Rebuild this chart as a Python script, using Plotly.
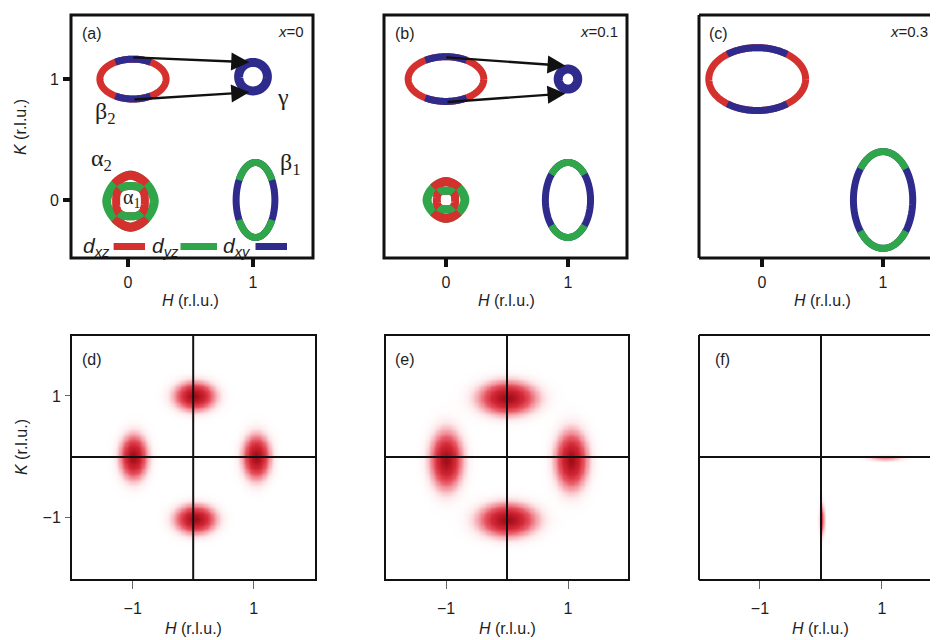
import numpy as np
import plotly.graph_objects as go

# ------------------------------------------------------------------ data
RED, GREEN, BLUE = "#d4302e", "#2fa64a", "#2f2b8c"

panel_labels = ["(a)", "(b)", "(c)", "(d)", "(e)", "(f)"]
doping_labels = ["<i>x</i>=0", "<i>x</i>=0.1", "<i>x</i>=0.3"]

top_ticks = [0, 1]
top_ticktext = ["0", "1"]
bottom_ticks = [-1, 1]
bottom_ticktext = ["\u22121", "1"]

# beta2 electron pocket near (0,1) for x = 0, 0.1, 0.3  (dxz ends, dxy sides)
beta2_H = [0.04, 0.0, -0.04]
beta2_K = [1.0, 1.0, 1.0]
beta2_a = [0.265, 0.31, 0.40]
beta2_b = [0.165, 0.185, 0.26]
beta2_phi = [58, 57, 52]

# beta1 electron pocket near (1,0)  (dxy sides, dyz top/bottom)
beta1_H = [1.02, 1.0, 1.0]
beta1_K = [0.0, 0.0, 0.0]
beta1_a = [0.155, 0.185, 0.245]
beta1_b = [0.31, 0.31, 0.40]
beta1_phi = [32, 43, 40]

# gamma hole pocket near (1,1), only x = 0, 0.1
gamma_H = [1.0, 1.0]
gamma_K = [1.02, 1.0]
gamma_a = [0.115, 0.08]
gamma_b = [0.118, 0.083]

# alpha hole pockets at (0,0), only x = 0, 0.1
alpha_H = [0.02, 0.0]
alpha_K = [-0.01, 0.0]
alpha2_a = [0.19, 0.155]   # outer alpha2: dxz top/bottom, dyz sides
alpha2_b = [0.215, 0.152]
alpha1_a = [0.115, 0.075]  # inner alpha1: dyz top/bottom, dxz sides
alpha1_b = [0.125, 0.077]
alpha2_n = 1.7             # rounded-diamond outer contour
alpha1_n = 2.8             # squarish inner contour
alpha_phi = 45

# nesting arrows (tail -> head), panels a and b
arrow_tail_H = [[0.03, 0.04], [-0.01, 0.0]]
arrow_tail_K = [[1.18, 0.83], [1.18, 0.81]]
arrow_head_H = [[0.97, 0.97], [0.98, 0.98]]
arrow_head_K = [[1.14, 0.89], [1.11, 0.88]]

# spin-fluctuation spots (d), (e), (f)
spots_H = [[0.02, -0.99, 1.04, 0.03], [0.0, -1.0, 1.05, 0.0], [0.01, 1.05]]
spots_K = [[1.0, 0.0, 0.0, -1.02], [0.97, -0.05, -0.05, -1.03], [-1.03, -0.02]]
spots_sH = [[0.185, 0.125, 0.125, 0.185], [0.26, 0.145, 0.145, 0.26], [0.025, 0.17]]
spots_sK = [[0.13, 0.2, 0.2, 0.13], [0.15, 0.26, 0.26, 0.15], [0.15, 0.025]]
spots_amp = [[1.0, 1.0, 1.0, 1.0], [1.0, 1.0, 1.0, 1.0], [0.5, 0.22]]

# ------------------------------------------------------------------ layout helpers
W, H = 938, 640
OFF = 8  # page body margin


def px2x(px):
    return (px - OFF) / W


def px2y(py):
    return 1 - (py - OFF) / H


# panel boxes in screen pixels: (left, right, top, bottom)
BOX = [(71, 313, 15, 258), (384, 627, 15, 258), (699, 946, 15, 258),
       (71, 316, 335, 580), (385, 629, 335, 580), (699, 946, 335, 580)]
XD = [[px2x(b[0]), min(1.0, px2x(b[1]))] for b in BOX]
YD = [[px2y(b[3]), px2y(b[2])] for b in BOX]
XR = [[-0.456, 1.48], [-0.508, 1.484], [-0.521, 1.52],
      [-2.02, 2.03], [-2.0, 2.0], [-2.0, 2.05]]
YR_TOP = [-0.48, 1.53]
YR_BOT = [-2.02, 2.0]

FONT = "Liberation Sans, Arial, sans-serif"
SERIF = "Liberation Serif, Times New Roman, serif"
TXT = "#1e1e1e"

fig = go.Figure()


def ax(i):
    return ("x" if i == 0 else f"x{i+1}"), ("y" if i == 0 else f"y{i+1}")


def add_line(i, xs, ys, color, width):
    xa, ya = ax(i)
    fig.add_trace(go.Scatter(x=xs, y=ys, mode="lines", xaxis=xa, yaxis=ya,
                             line=dict(color=color, width=width, simplify=False),
                             hoverinfo="skip", showlegend=False))


def arc(i, h0, k0, a, b, t0, t1, color, width, n=2.0, npts=240):
    t = np.radians(np.linspace(t0, t1, npts))
    c, s = np.cos(t), np.sin(t)
    xs = h0 + a * np.sign(c) * np.abs(c) ** (2 / n)
    ys = k0 + b * np.sign(s) * np.abs(s) ** (2 / n)
    add_line(i, xs, ys, color, width)


def full_ellipse(i, h0, k0, a, b, color, width=7, n=2.0):
    arc(i, h0, k0, a, b, 0, 375, color, width, n)


def segmented_ellipse(i, h0, k0, a, b, phi, end_color, side_color, width=7, n=2.0):
    full_ellipse(i, h0, k0, a, b, end_color, width, n)
    for t0 in (phi, 180 + phi):
        arc(i, h0, k0, a, b, t0, t0 + 180 - 2 * phi, side_color, width, n, 80)


# ------------------------------------------------------------------ top panels
for p in range(3):
    segmented_ellipse(p, beta2_H[p], beta2_K[p], beta2_a[p], beta2_b[p],
                      beta2_phi[p], RED, BLUE)
    segmented_ellipse(p, beta1_H[p], beta1_K[p], beta1_a[p], beta1_b[p],
                      beta1_phi[p], BLUE, GREEN)
for p in range(2):
    full_ellipse(p, gamma_H[p], gamma_K[p], gamma_a[p], gamma_b[p], BLUE, 9)
    segmented_ellipse(p, alpha_H[p], alpha_K[p], alpha2_a[p], alpha2_b[p],
                      alpha_phi, GREEN, RED, 9, alpha2_n)
    segmented_ellipse(p, alpha_H[p], alpha_K[p], alpha1_a[p], alpha1_b[p],
                      alpha_phi, RED, GREEN, 8, alpha1_n)

annotations = []
for p in range(2):
    xa, ya = ax(p)
    for j in range(2):
        annotations.append(dict(
            x=arrow_head_H[p][j], y=arrow_head_K[p][j],
            ax=arrow_tail_H[p][j], ay=arrow_tail_K[p][j],
            xref=xa, yref=ya, axref=xa, ayref=ya, text="",
            showarrow=True, arrowhead=2, arrowsize=1.5, arrowwidth=2.4,
            arrowcolor="#111", standoff=0, startstandoff=0))

# orbital legend inside (a)
legend_text = ["<i>d</i><sub><i>xz</i></sub>", "<i>d</i><sub><i>yz</i></sub>",
               "<i>d</i><sub><i>xy</i></sub>"]
legend_colors = [RED, GREEN, BLUE]
legend_text_H = [-0.25, 0.30, 0.87]
legend_bar_H = [[-0.115, 0.136], [0.42, 0.712], [1.02, 1.272]]
LEG_K = -0.385
for t, c, th, bh in zip(legend_text, legend_colors, legend_text_H, legend_bar_H):
    add_line(0, bh, [LEG_K, LEG_K], c, 7)
    annotations.append(dict(x=th, y=LEG_K, xref="x", yref="y", text=t,
                            showarrow=False, font=dict(family=FONT, size=21, color=TXT)))

# greek labels in (a)
greek = [("\u03b2<sub>2</sub>", -0.18, 0.72, 24), ("\u03b3", 1.24, 0.85, 24),
         ("\u03b1<sub>2</sub>", -0.21, 0.33, 24), ("\u03b1<sub>1</sub>", 0.03, 0.01, 20),
         ("\u03b2<sub>1</sub>", 1.30, 0.30, 24)]
for t, x, y, s in greek:
    annotations.append(dict(x=x, y=y, xref="x", yref="y", text=t, showarrow=False,
                            font=dict(family=SERIF, size=s, color=TXT)))

# ------------------------------------------------------------------ bottom panels
grid = np.round(np.arange(-2.1, 2.1001, 0.02), 3)
GH, GK = np.meshgrid(grid, grid)
cscale = [[0.0, "#ffffff"], [0.05, "#fdeaec"], [0.15, "#f6b0b7"],
          [0.35, "#e85a66"], [0.6, "#d42a38"], [0.85, "#bb1826"], [1.0, "#a00e1a"]]
for q in range(3):
    z = np.zeros_like(GH)
    for h0, k0, sh, sk, amp in zip(spots_H[q], spots_K[q], spots_sH[q],
                                   spots_sK[q], spots_amp[q]):
        z += amp * np.exp(-0.5 * (((GH - h0) / sh) ** 2 + ((GK - k0) / sk) ** 2))
    z = np.round(np.clip(z, 0, 1), 3)
    xa, ya = ax(q + 3)
    fig.add_trace(go.Heatmap(x=grid, y=grid, z=z, xaxis=xa, yaxis=ya,
                             colorscale=cscale, zmin=0, zmax=1, zsmooth="best",
                             showscale=False, hoverinfo="skip"))

shapes = []
for q in range(3):
    xa, ya = ax(q + 3)
    shapes.append(dict(type="line", xref=xa, yref=f"{ya} domain", x0=0, x1=0, y0=0, y1=1,
                       line=dict(color="#111", width=2)))
    shapes.append(dict(type="line", xref=f"{xa} domain", yref=ya, x0=0, x1=1, y0=0, y1=0,
                       line=dict(color="#111", width=2)))

# ------------------------------------------------------------------ borders (paper coords)
for i in range(6):
    x0, x1 = XD[i]
    y0, y1 = YD[i]
    w = 3 if i < 3 else 2
    col = "#111"
    if i in (2, 5):
        for xs, ys in [((x0, 1.02), (y1, y1)), ((x0, 1.02), (y0, y0)), ((x0, x0), (y0, y1))]:
            shapes.append(dict(type="line", xref="paper", yref="paper",
                               x0=xs[0], x1=xs[1], y0=ys[0], y1=ys[1],
                               line=dict(color=col, width=w)))
    else:
        shapes.append(dict(type="rect", xref="paper", yref="paper",
                           x0=x0, x1=x1, y0=y0, y1=y1, line=dict(color=col, width=w)))

# ------------------------------------------------------------------ panel labels
lab_pos_top = [(-0.29, 1.38), (-0.336, 1.38), (-0.36, 1.38)]
dop_pos_top = [1.425, 1.43, 1.39]
for p in range(3):
    xa, ya = ax(p)
    annotations.append(dict(x=lab_pos_top[p][0], y=lab_pos_top[p][1], xref=xa, yref=ya,
                            text=panel_labels[p], showarrow=False,
                            font=dict(family=FONT, size=16, color=TXT)))
    annotations.append(dict(x=dop_pos_top[p], y=1.39, xref=xa, yref=ya, xanchor="right",
                            text=doping_labels[p], showarrow=False,
                            font=dict(family=FONT, size=15, color=TXT)))
lab_pos_bot = [(-1.67, 1.6), (-1.67, 1.6), (-1.62, 1.6)]
for q in range(3):
    xa, ya = ax(q + 3)
    annotations.append(dict(x=lab_pos_bot[q][0], y=lab_pos_bot[q][1], xref=xa, yref=ya,
                            text=panel_labels[q + 3], showarrow=False,
                            font=dict(family=FONT, size=16, color=TXT)))

# axis titles
for i in range(6):
    xa, _ = ax(i)
    annotations.append(dict(x=0.5 if i < 3 else 0.0, y=px2y(300 if i < 3 else 628),
                            xref=xa, yref="paper", text="<i>H</i> (r.l.u.)", showarrow=False,
                            xanchor="center", yanchor="middle",
                            font=dict(family=FONT, size=16, color=TXT)))
for ypx in (127, 447):
    annotations.append(dict(x=px2x(21), y=px2y(ypx), xref="paper", yref="paper",
                            text="<i>K</i> (r.l.u.)", textangle=-90, showarrow=False,
                            xanchor="center", yanchor="middle",
                            font=dict(family=FONT, size=16, color=TXT)))

# ------------------------------------------------------------------ axes
lay = dict(width=W, height=H, margin=dict(l=0, r=0, t=0, b=0),
           paper_bgcolor="white", plot_bgcolor="white", showlegend=False,
           shapes=shapes, annotations=annotations)
for i in range(6):
    top = i < 3
    xk = "xaxis" if i == 0 else f"xaxis{i+1}"
    yk = "yaxis" if i == 0 else f"yaxis{i+1}"
    xa, ya = ax(i)
    xdict = dict(domain=XD[i], range=XR[i], anchor=ya, showgrid=False, zeroline=False,
                 showline=False, fixedrange=True,
                 tickvals=top_ticks if top else bottom_ticks,
                 ticktext=top_ticktext if top else bottom_ticktext,
                 ticks="outside", ticklen=8,
                 tickwidth=4 if top else 1.2, tickcolor="#111" if top else "#666",
                 ticklabelstandoff=2 if top else 6,
                 tickfont=dict(family=FONT, size=16, color=TXT))
    ydict = dict(domain=YD[i], range=YR_TOP if top else YR_BOT,
                 anchor=xa, showgrid=False, zeroline=False, showline=False, fixedrange=True)
    if i in (0, 3):
        ydict.update(tickvals=top_ticks if top else bottom_ticks,
                     ticktext=top_ticktext if top else bottom_ticktext,
                     ticks="outside", ticklen=7 if top else 5,
                     tickwidth=4 if top else 1.2, tickcolor="#111" if top else "#666",
                     ticklabelstandoff=1,
                     tickfont=dict(family=FONT, size=16, color=TXT))
    else:
        ydict.update(showticklabels=False, ticks="")
    lay[xk] = xdict
    lay[yk] = ydict

fig.update_layout(**lay)
fig.write_html("out.html")
